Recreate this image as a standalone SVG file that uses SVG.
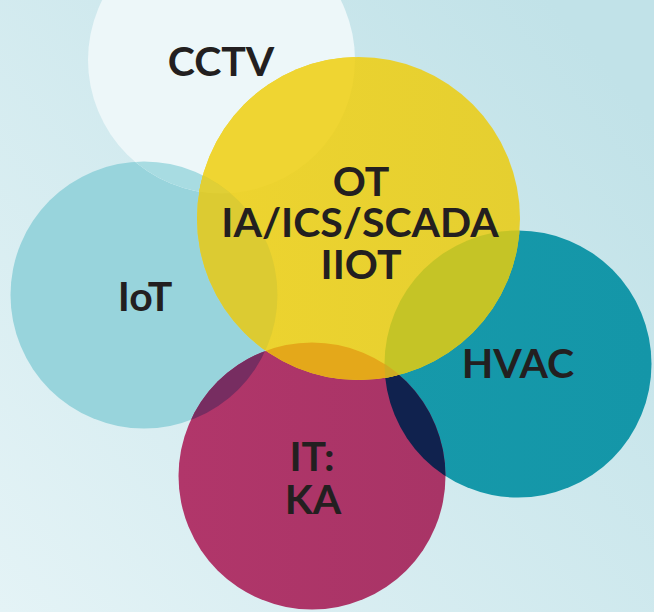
<svg xmlns="http://www.w3.org/2000/svg" width="654" height="612" viewBox="0 0 654 612">
  <defs>
    <linearGradient id="bg" x1="0" y1="1" x2="1" y2="0.2">
      <stop offset="0" stop-color="#e4f3f6"/>
      <stop offset="1" stop-color="#c1e2e8"/>
    </linearGradient>
    <linearGradient id="otFill" x1="0" y1="0" x2="1" y2="0">
      <stop offset="0" stop-color="#eed42f"/>
      <stop offset="1" stop-color="#e5cf30"/>
    </linearGradient>
    <linearGradient id="itFill" x1="0" y1="0" x2="1" y2="0">
      <stop offset="0" stop-color="#b1366a"/>
      <stop offset="1" stop-color="#a83466"/>
    </linearGradient>
    <linearGradient id="hvacFill" x1="0" y1="0" x2="1" y2="0">
      <stop offset="0" stop-color="#1699aa"/>
      <stop offset="1" stop-color="#1496a8"/>
    </linearGradient>
    <clipPath id="cpIot"><circle cx="144" cy="295" r="133.5"/></clipPath>
    <clipPath id="cpCctv"><circle cx="221.5" cy="60" r="133.5"/></clipPath>
    <clipPath id="cpHvac"><circle cx="518" cy="364" r="133.5"/></clipPath>
    <clipPath id="cpIt"><circle cx="312" cy="476" r="133.5"/></clipPath>
    <clipPath id="cpOt"><circle cx="358.5" cy="218.5" r="161.5"/></clipPath>
  </defs>
  <style>
    .label { font-family: Lato, "Liberation Sans", sans-serif; font-weight: 700; font-size: 41px; fill: #231f20; text-anchor: middle; }
  </style>

  <rect x="0" y="0" width="654" height="612" fill="url(#bg)"/>

  <g id="node-iot">
    <circle cx="144" cy="295" r="133.5" fill="#98d4dc"/>
    <text class="label" x="145" y="311">IoT</text>
  </g>

  <g id="node-cctv">
    <circle cx="221.5" cy="60" r="133.5" fill="#edf7f9"/>
    <!-- shared area with IoT -->
    <circle cx="221.5" cy="60" r="133.5" fill="#a8dce2" clip-path="url(#cpIot)"/>
    <text class="label" x="221" y="76">CCTV</text>
  </g>

  <g id="node-hvac">
    <circle cx="518" cy="364" r="133.5" fill="url(#hvacFill)"/>
    <text class="label" x="518" y="378">HVAC</text>
  </g>

  <g id="node-it">
    <circle cx="312" cy="476" r="133.5" fill="url(#itFill)"/>
    <circle cx="312" cy="476" r="133.5" fill="#772d61" clip-path="url(#cpIot)"/>
    <circle cx="312" cy="476" r="133.5" fill="#10224e" clip-path="url(#cpHvac)"/>
    <text class="label" x="312" y="471">IT:</text>
    <text class="label" x="313" y="514">KA</text>
  </g>

  <g id="node-ot">
    <circle cx="358.5" cy="218.5" r="161.5" fill="url(#otFill)"/>
    <circle cx="358.5" cy="218.5" r="161.5" fill="#efd532" clip-path="url(#cpCctv)"/>
    <circle cx="358.5" cy="218.5" r="161.5" fill="#dccb32" clip-path="url(#cpIot)"/>
    <g clip-path="url(#cpIot)">
      <circle cx="358.5" cy="218.5" r="161.5" fill="#e0cf36" clip-path="url(#cpCctv)"/>
    </g>
    <circle cx="358.5" cy="218.5" r="161.5" fill="#c5c426" clip-path="url(#cpHvac)"/>
    <circle cx="358.5" cy="218.5" r="161.5" fill="#e4a81a" clip-path="url(#cpIt)"/>
    <g clip-path="url(#cpIt)">
      <circle cx="358.5" cy="218.5" r="161.5" fill="#cfad22" clip-path="url(#cpHvac)"/>
      <circle cx="358.5" cy="218.5" r="161.5" fill="#d89e1c" clip-path="url(#cpIot)"/>
    </g>
    <text class="label" x="361" y="196">OT</text>
    <text class="label" x="360" y="237">IA/ICS/SCADA</text>
    <text class="label" x="361" y="279">IIOT</text>
  </g>
</svg>
